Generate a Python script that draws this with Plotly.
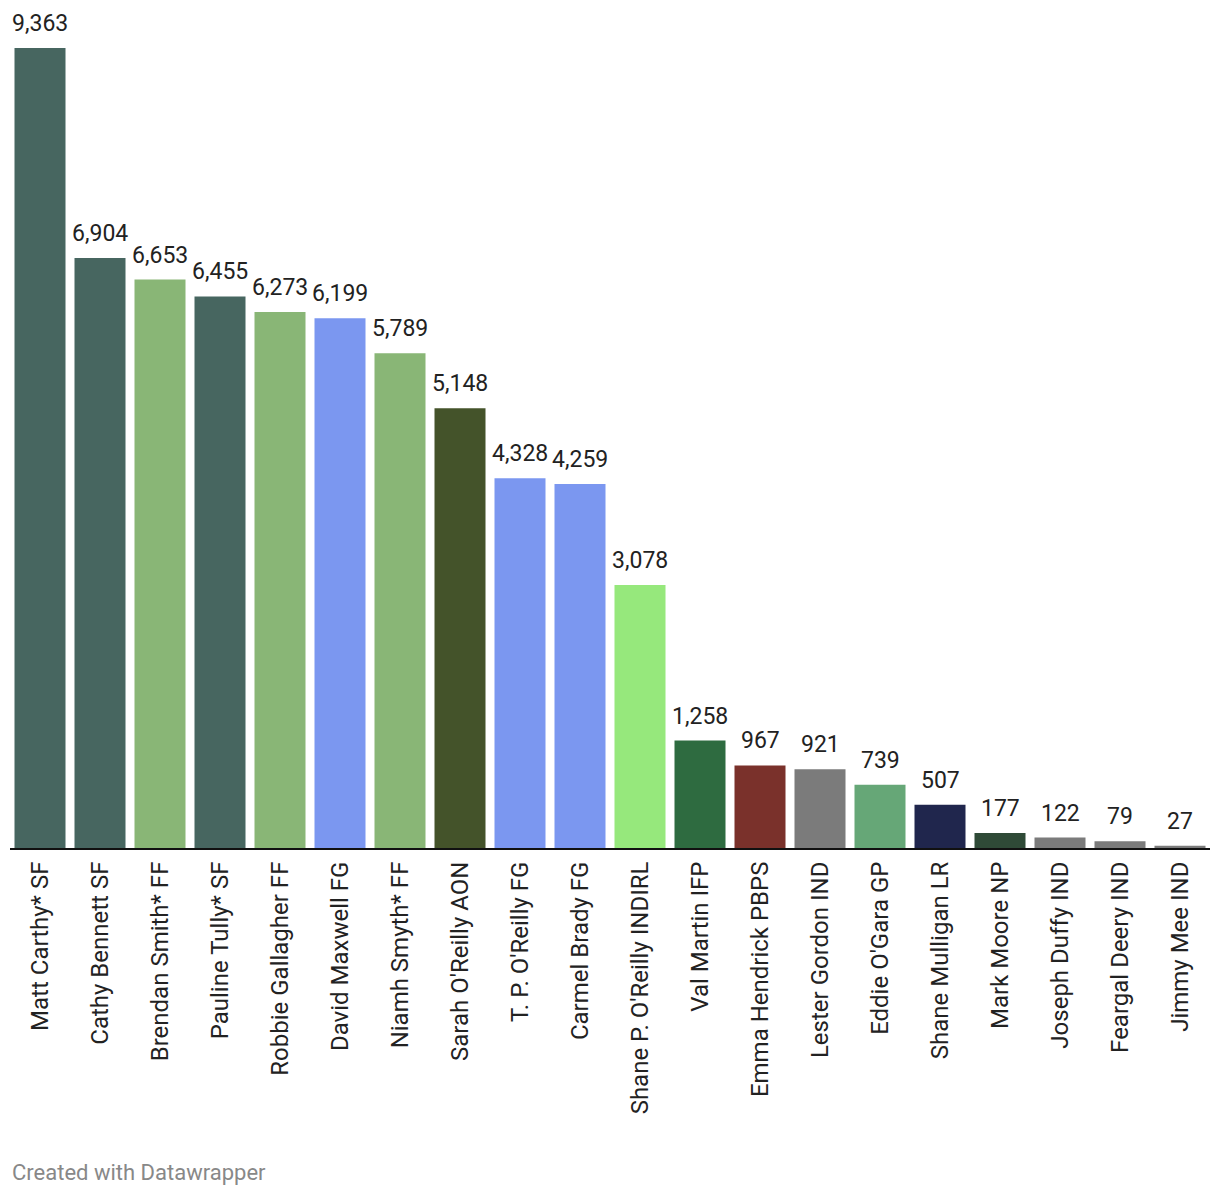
import plotly.graph_objects as go

names = ["Matt Carthy* SF", "Cathy Bennett SF", "Brendan Smith* FF", "Pauline Tully* SF",
         "Robbie Gallagher FF", "David Maxwell FG", "Niamh Smyth* FF", "Sarah O'Reilly AON",
         "T. P. O'Reilly FG", "Carmel Brady FG", "Shane P. O'Reilly INDIRL", "Val Martin IFP",
         "Emma Hendrick PBPS", "Lester Gordon IND", "Eddie O'Gara GP", "Shane Mulligan LR",
         "Mark Moore NP", "Joseph Duffy IND", "Feargal Deery IND", "Jimmy Mee IND"]
votes = [9363, 6904, 6653, 6455, 6273, 6199, 5789, 5148, 4328, 4259, 3078, 1258,
         967, 921, 739, 507, 177, 122, 79, 27]
party_colors = {"SF": "#476660", "FF": "#89b676", "FG": "#7b97f0", "AON": "#44532a",
                "INDIRL": "#96e87c", "IFP": "#2e6b40", "PBPS": "#7a312b", "IND": "#7b7b7b",
                "GP": "#66a777", "LR": "#20264d", "NP": "#2f4a37"}
colors = [party_colors[n.split()[-1]] for n in names]

fig = go.Figure(go.Bar(
    x=names, y=votes, marker=dict(color=colors, line=dict(width=0)),
    cliponaxis=False, hoverinfo="skip"))

value_labels = [dict(x=n, y=v, xref="x", yref="y", text=f"{v:,}", showarrow=False,
                     yanchor="bottom", yshift=9,
                     font=dict(family="Roboto", size=23, color="#222222"))
                for n, v in zip(names, votes)]

fig.update_layout(
    width=1220, height=1198, paper_bgcolor="white", plot_bgcolor="white",
    margin=dict(l=2, r=18, t=40, b=358), bargap=0.15, showlegend=False,
    font=dict(family="Roboto", color="#222222"),
    xaxis=dict(tickangle=-90, tickfont=dict(family="Roboto", size=24, color="#222222"),
               showline=True, linecolor="#111111", linewidth=2, showgrid=False,
               ticks="", ticklabelstandoff=2, fixedrange=True),
    yaxis=dict(range=[0, 9363], visible=False, showgrid=False, zeroline=False, fixedrange=True),
    annotations=value_labels + [dict(text="Created with Datawrapper", xref="paper", yref="paper",
                      x=0, xanchor="left", y=-(1172 - 848) / 800, yanchor="middle",
                      showarrow=False, font=dict(family="Roboto", size=22, color="#888888"))],
)
fig.write_html("out.html")
